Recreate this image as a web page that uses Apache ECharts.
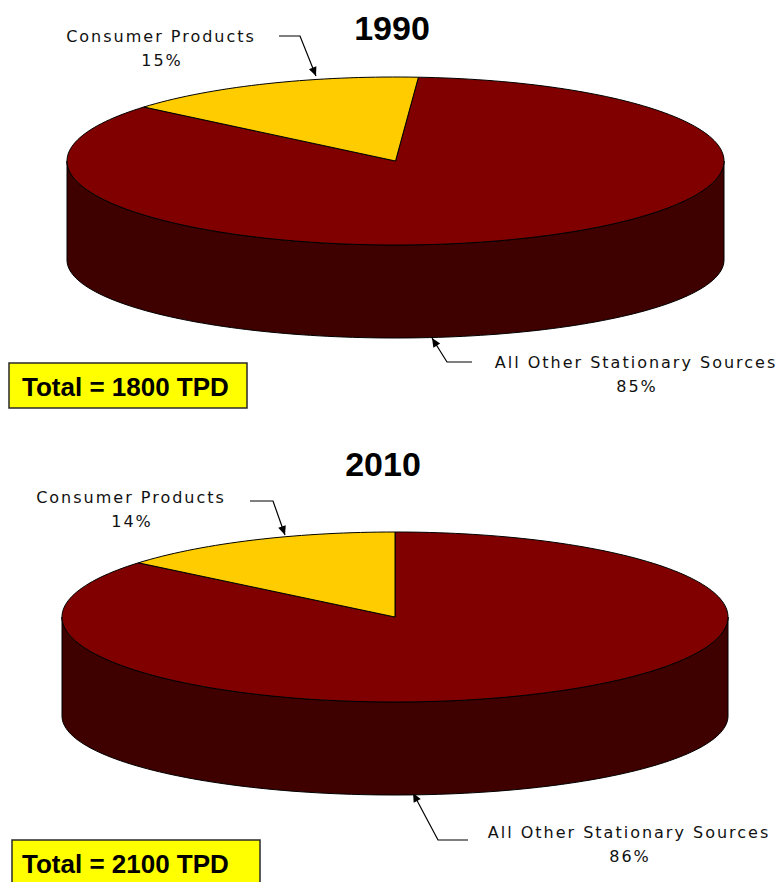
<!DOCTYPE html>
<html>
<head>
<meta charset="utf-8">
<script src="https://cdn.jsdelivr.net/npm/echarts@6/dist/echarts.min.js"></script>
<style>
  html, body { margin: 0; padding: 0; background: #ffffff; }
  #chart { width: 778px; height: 882px; }
  /* slice labels use a wide, airy spacing */
  #chart text[style*="DejaVu"] { letter-spacing: 2px; }
</style>
</head>
<body>
<div id="chart"></div>
<script>
// ---- data ----
const years = ['1990', '2010'];
const categories = ['All Other Stationary Sources', 'Consumer Products'];
const shares1990 = [85, 15];
const shares2010 = [86, 14];
const totalsTPD = [1800, 2100];

// ---- styling ----
const topColors = ['#800000', '#ffcc00'];
const wallColors = ['#3f0000', '#7f6600'];
const labelFont = 'DejaVu Sans';
const boldFont = 'Liberation Sans';

// ---- layout of each tilted pie (pixels) ----
const pieLayouts = [
  {
    cx: 395.5, cy: 161, rx: 328.5, ry: 84, drop: 99, ryBottom: 78, start: 4,
    title: [392, 28],
    labels: [
      { x: 636, y: 362, leader: [[472, 362], [447, 362], [432, 338]] },
      { x: 161, y: 36, leader: [[279, 36], [300, 36], [316, 76]] }
    ],
    box: { x: 9, y: 363, w: 238, h: 45 }
  },
  {
    cx: 395, cy: 617, rx: 333, ry: 85, drop: 99, ryBottom: 79, start: 0,
    title: [383, 464],
    labels: [
      { x: 629, y: 832, leader: [[468, 840], [438, 840], [413, 793]] },
      { x: 131, y: 497, leader: [[250, 501], [273, 501], [285, 535]] }
    ],
    box: { x: 12, y: 840, w: 248, h: 45 }
  }
];
const shareSets = [shares1990, shares2010];

// point on the top (or bottom) rim; angle in degrees, clockwise from 12 o'clock
function rimPoint(p, deg, bottom) {
  const t = deg * Math.PI / 180;
  const x = p.cx + p.rx * Math.sin(t);
  const y = bottom ? p.cy + p.drop - p.ryBottom * Math.cos(t) : p.cy - p.ry * Math.cos(t);
  return [x, y];
}
function rimArc(p, a0, a1, bottom) {
  const n = Math.max(2, Math.ceil(Math.abs(a1 - a0) / 1.5));
  const pts = [];
  for (let k = 0; k <= n; k++) pts.push(rimPoint(p, a0 + (a1 - a0) * k / n, bottom));
  return pts;
}

function makeRenderer(p, values) {
  const sum = values.reduce((s, v) => s + v, 0);
  return function (params, api) {
    const i = params.dataIndex;
    let before = 0;
    for (let k = 0; k < i; k++) before += values[k];
    const a0 = p.start + before / sum * 360;
    const a1 = a0 + api.value(0) / sum * 360;
    const children = [];
    // outer wall: only the front half (90..270 deg) faces the viewer
    for (let k = -1; k <= 2; k++) {
      const lo = Math.max(a0, 90 + 360 * k);
      const hi = Math.min(a1, 270 + 360 * k);
      if (hi > lo) {
        const pts = rimArc(p, lo, hi, false).concat(rimArc(p, hi, lo, true));
        children.push({
          type: 'polygon', z2: 1,
          shape: { points: pts },
          style: { fill: wallColors[i], stroke: '#000', lineWidth: 1, lineJoin: 'round' }
        });
      }
    }
    // top face
    children.push({
      type: 'polygon', z2: 5,
      shape: { points: [[p.cx, p.cy]].concat(rimArc(p, a0, a1, false)) },
      style: { fill: topColors[i], stroke: '#000', lineWidth: 1, lineJoin: 'round' }
    });
    return { type: 'group', children };
  };
}

function arrowHead(tip, from) {
  const dx = tip[0] - from[0], dy = tip[1] - from[1];
  const len = Math.hypot(dx, dy), ux = dx / len, uy = dy / len;
  const L = 9, W = 4;
  const bx = tip[0] - ux * L, by = tip[1] - uy * L;
  return [tip, [bx - uy * W, by + ux * W], [bx + uy * W, by - ux * W]];
}

const graphics = [];
pieLayouts.forEach((p, pi) => {
  graphics.push({
    type: 'text', x: p.title[0], y: p.title[1], silent: true,
    style: { text: years[pi], fontFamily: boldFont, fontWeight: 'bold', fontSize: 34,
             fill: '#000', align: 'center', verticalAlign: 'middle' }
  });
  p.labels.forEach((lb, ci) => {
    graphics.push({
      type: 'text', x: lb.x, y: lb.y, silent: true,
      style: { text: categories[ci], fontFamily: labelFont, fontSize: 16,
               fill: '#111', align: 'center', verticalAlign: 'middle' }
    });
    graphics.push({
      type: 'text', x: lb.x + 1, y: lb.y + 24, silent: true,
      style: { text: shareSets[pi][ci] + '%', fontFamily: labelFont, fontSize: 16,
               fill: '#111', align: 'center', verticalAlign: 'middle' }
    });
    const pts = lb.leader;
    graphics.push({
      type: 'polyline', silent: true, shape: { points: pts },
      style: { stroke: '#000', lineWidth: 1.2, fill: null }
    });
    graphics.push({
      type: 'polygon', silent: true,
      shape: { points: arrowHead(pts[pts.length - 1], pts[pts.length - 2]) },
      style: { fill: '#000' }
    });
  });
  graphics.push({
    type: 'rect', silent: true,
    shape: { x: p.box.x, y: p.box.y, width: p.box.w, height: p.box.h },
    style: { fill: '#ffff00', stroke: '#2a2a2a', lineWidth: 1.5 }
  });
  graphics.push({
    type: 'text', x: 22, y: p.box.y + p.box.h / 2 + 1, silent: true,
    style: { text: 'Total = ' + totalsTPD[pi] + ' TPD', fontFamily: boldFont, fontWeight: 'bold',
             fontSize: 26, fill: '#000', align: 'left', verticalAlign: 'middle' }
  });
});

const chart = echarts.init(document.getElementById('chart'), null, { renderer: 'svg' });
chart.setOption({
  animation: false,
  backgroundColor: '#ffffff',
  series: pieLayouts.map((p, pi) => ({
    type: 'custom',
    name: years[pi],
    coordinateSystem: 'none',
    silent: true,
    renderItem: makeRenderer(p, shareSets[pi]),
    data: shareSets[pi].map((v, ci) => ({ name: categories[ci], value: v }))
  })),
  graphic: { elements: graphics }
});
</script>
</body>
</html>
